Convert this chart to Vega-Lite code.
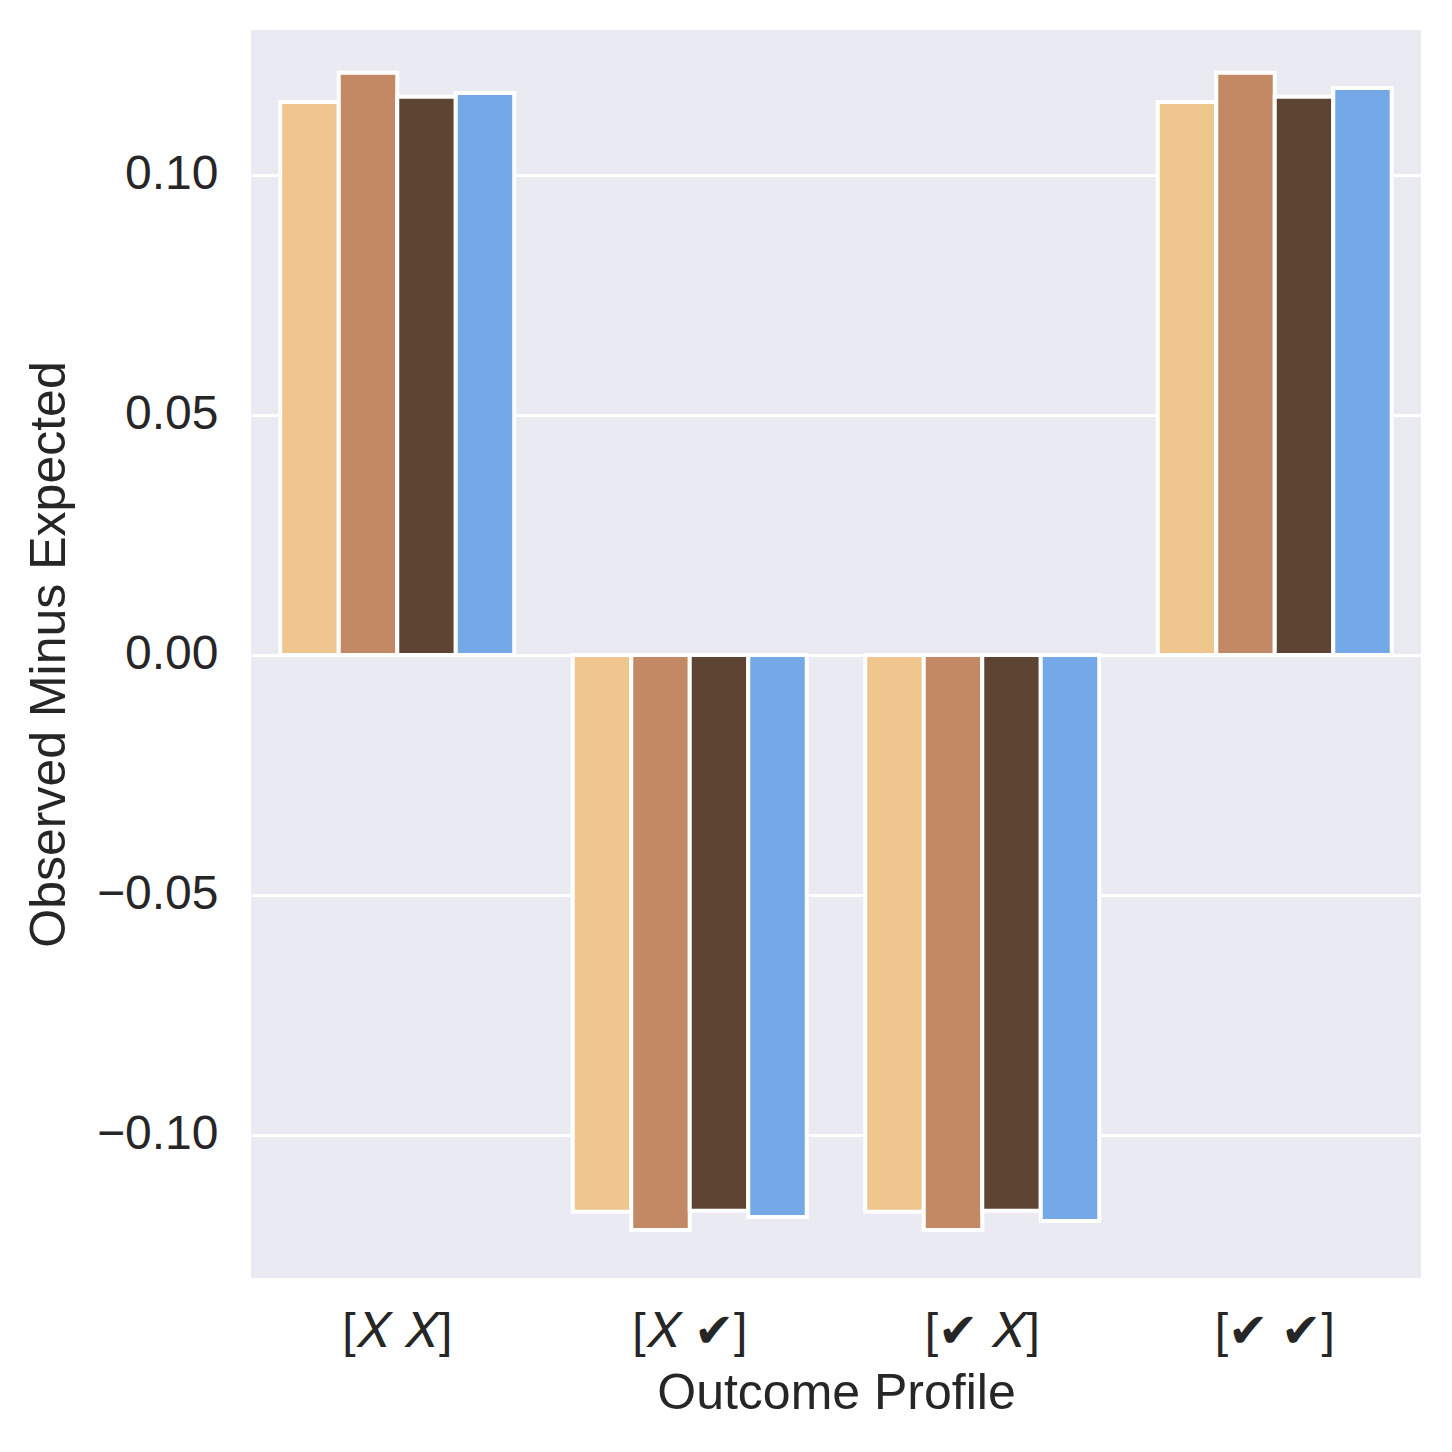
{
  "$schema": "https://vega.github.io/schema/vega-lite/v6.json",
  "width": 1170,
  "height": 1248,
  "autosize": {"type": "none"},
  "padding": {"left": 251, "top": 30, "right": 31, "bottom": 174},
  "background": "white",
  "config": {
    "font": "Liberation Sans",
    "view": {"fill": "#EAEAF2", "stroke": null},
    "axis": {
      "domain": false,
      "ticks": false,
      "labelFont": "Liberation Sans",
      "titleFont": "Liberation Sans",
      "labelColor": "#262626",
      "titleColor": "#262626",
      "labelFontSize": 48,
      "titleFontSize": 50,
      "titleFontWeight": "normal"
    }
  },
  "data": {
    "values": [
      {"profile": "[𝑋 𝑋]", "series": "A", "value": 0.1152},
      {"profile": "[𝑋 𝑋]", "series": "B", "value": 0.1213},
      {"profile": "[𝑋 𝑋]", "series": "C", "value": 0.1163},
      {"profile": "[𝑋 𝑋]", "series": "D", "value": 0.1171},
      {"profile": "[𝑋 ✔︎]", "series": "A", "value": -0.1160},
      {"profile": "[𝑋 ✔︎]", "series": "B", "value": -0.1198},
      {"profile": "[𝑋 ✔︎]", "series": "C", "value": -0.1158},
      {"profile": "[𝑋 ✔︎]", "series": "D", "value": -0.1171},
      {"profile": "[✔︎ 𝑋]", "series": "A", "value": -0.1160},
      {"profile": "[✔︎ 𝑋]", "series": "B", "value": -0.1198},
      {"profile": "[✔︎ 𝑋]", "series": "C", "value": -0.1158},
      {"profile": "[✔︎ 𝑋]", "series": "D", "value": -0.1179},
      {"profile": "[✔︎ ✔︎]", "series": "A", "value": 0.1152},
      {"profile": "[✔︎ ✔︎]", "series": "B", "value": 0.1213},
      {"profile": "[✔︎ ✔︎]", "series": "C", "value": 0.1163},
      {"profile": "[✔︎ ✔︎]", "series": "D", "value": 0.1181}
    ]
  },
  "mark": {"type": "bar", "stroke": "white", "strokeWidth": 4},
  "encoding": {
    "x": {
      "field": "profile",
      "type": "nominal",
      "sort": null,
      "title": "Outcome Profile",
      "scale": {"paddingInner": 0.2, "paddingOuter": 0.1},
      "axis": {"labelAngle": 0, "labelPadding": 30, "titlePadding": 12, "grid": false}
    },
    "xOffset": {"field": "series", "type": "nominal", "sort": null, "scale": {"paddingInner": 0, "paddingOuter": 0}},
    "y": {
      "field": "value",
      "type": "quantitative",
      "title": "Observed Minus Expected",
      "scale": {"domain": [-0.1298, 0.1302], "nice": false, "zero": false},
      "axis": {
        "values": [-0.1, -0.05, 0, 0.05, 0.1],
        "format": ".2f",
        "grid": true,
        "gridColor": "white",
        "gridWidth": 3,
        "labelPadding": 33,
        "titlePadding": 22
      }
    },
    "color": {
      "field": "series",
      "type": "nominal",
      "sort": null,
      "scale": {"range": ["#EEC68E", "#C38964", "#5E4533", "#75A8E7"]},
      "legend": null
    }
  }
}
